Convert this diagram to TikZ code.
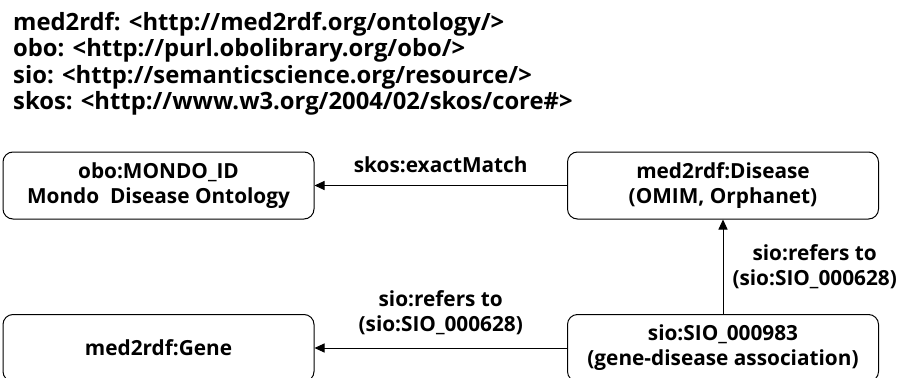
\documentclass[tikz,border=0pt]{standalone}
\usepackage{fontspec}
\setmainfont{Open Sans}
\usetikzlibrary{positioning, arrows.meta}

\begin{document}
\begin{tikzpicture}[
        x=1pt, y=-1pt,
        font=\bfseries\fontsize{20.8}{25}\selectfont,
        >={Triangle[length=10pt, width=9pt]},
        % Styles
        entity/.style={% For the class boxes
            rectangle,
            rounded corners=10pt,
            draw,
            line width=1pt,
            minimum width=311pt,
            minimum height=67pt,
            align=center,
            },
        nsblock/.style={% For the namespace block
            align=left,
            inner sep=0pt,
            font=\bfseries\fontsize{23.8}{26.5}\selectfont,
            },
        mylabel/.style={% For the property labels
            align=center,
            inner sep=0pt,
            },
        ArrowC1/.style={% Property arrows
            ->,
            line width=1pt,
            },
        ]

    % Picture area
        \clip (0,0) rectangle (909,377);
        \fill[white] (0,0) rectangle (909,377);

    % Nodes
        % Namespace prefixes
        \node [nsblock, anchor=north west] (ns) at (13,12) {%
            med2rdf: <http://med2rdf.org/ontology/>\\
            obo: <http://purl.obolibrary.org/obo/>\\
            sio: <http://semanticscience.org/resource/>\\
            skos: <http://www.w3.org/2004/02/skos/core\#>};

        % Class boxes
        \node [entity] (mondo) at (158.5,185.5) {obo:MONDO\_ID\\Mondo\ \ Disease Ontology};
        \node [entity] (disease) at (723,185.5) {med2rdf:Disease\\(OMIM, Orphanet)};
        \node [entity] (gene) at (158.5,348) {med2rdf:Gene};
        \node [entity] (gda) at (723,348) {sio:SIO\_000983\\(gene-disease association)};

    % Connect all.
        \draw [ArrowC1] (disease) -- node[mylabel, above=12pt] {skos:exactMatch} (mondo);
        \draw [ArrowC1] (gda) -- node[mylabel, above=13pt] {sio:refers to\\(sio:SIO\_000628)} (gene);
        \draw [ArrowC1] (gda) -- node[mylabel, right=9pt] {sio:refers to\\(sio:SIO\_000628)} (disease);

\end{tikzpicture}
\end{document}
